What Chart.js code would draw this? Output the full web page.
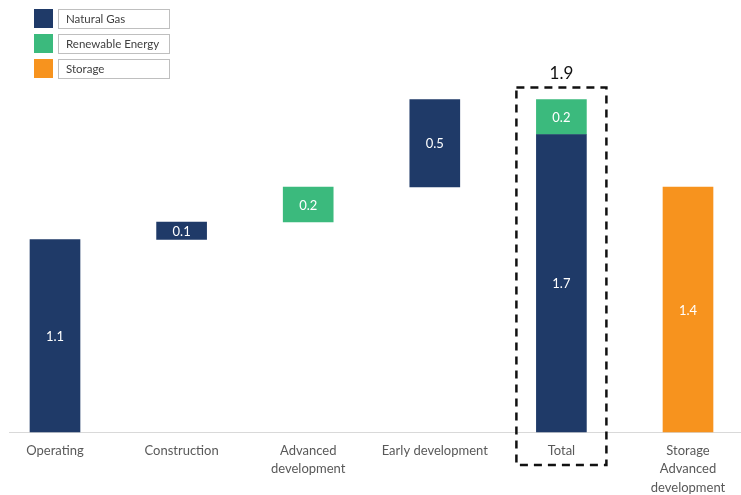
<!DOCTYPE html>
<html>
<head>
<meta charset="utf-8">
<script src="https://cdn.jsdelivr.net/npm/chart.js@4/dist/chart.umd.min.js"></script>
<style>
  html, body { margin: 0; padding: 0; background: #ffffff; }
  #wrap { width: 741px; height: 495px; position: relative; }
</style>
</head>
<body>
<div id="wrap"><canvas id="c" width="741" height="495"></canvas></div>
<script>
// Categories along the bottom (multi-line labels as arrays)
const categories = [
  'Operating',
  'Construction',
  ['Advanced', 'development'],
  'Early development',
  'Total',
  ['Storage', 'Advanced', 'development']
];

// Capacity per category and series (GW)
const naturalGas      = [1.1, 0.1, null, 0.5, 1.7, null];
const renewableEnergy = [null, null, 0.2, null, 0.2, null];
const storage         = [null, null, null, null, null, 1.4];

// How each category is stacked: steps build a waterfall, the total and
// standalone bars start from zero
const barKind = ['step', 'step', 'step', 'step', 'total', 'single'];

const seriesNames  = ['Natural Gas', 'Renewable Energy', 'Storage'];
const seriesColors = ['#1f3a68', '#3bba7d', '#f7931e'];

// Build floating [from, to] ranges for each series
function buildRanges() {
  const all = [naturalGas, renewableEnergy, storage];
  const out = all.map(() => categories.map(() => null));
  let running = 0;
  categories.forEach((_, i) => {
    if (barKind[i] === 'step') {
      all.forEach((s, k) => {
        if (s[i] != null) {
          out[k][i] = [running, running + s[i]];
          running += s[i];
        }
      });
    } else {
      let base = 0;
      all.forEach((s, k) => {
        if (s[i] != null) {
          out[k][i] = [base, base + s[i]];
          base += s[i];
        }
      });
    }
  });
  return out;
}
const ranges = buildRanges();
const seriesValues = [naturalGas, renewableEnergy, storage];

const totalIndex = barKind.indexOf('total');
const totalValue = seriesValues.reduce((a, s) => a + (s[totalIndex] || 0), 0);

const fontFamily = 'Lato, "Open Sans", sans-serif';

// Light baseline spanning the width
const baselinePlugin = {
  id: 'baseline',
  beforeDatasetsDraw(chart) {
    const ctx = chart.ctx;
    const y = chart.scales.y.getPixelForValue(0);
    ctx.save();
    ctx.strokeStyle = '#d9d9d9';
    ctx.lineWidth = 1;
    ctx.beginPath();
    ctx.moveTo(9, y + 0.5);
    ctx.lineTo(chart.width, y + 0.5);
    ctx.stroke();
    ctx.restore();
  }
};

// White value labels in the middle of each bar
const valueLabels = {
  id: 'valueLabels',
  afterDatasetsDraw(chart) {
    const ctx = chart.ctx;
    ctx.save();
    ctx.fillStyle = '#ffffff';
    ctx.font = '13px ' + fontFamily;
    ctx.textAlign = 'center';
    ctx.textBaseline = 'middle';
    chart.data.datasets.forEach((ds, k) => {
      const meta = chart.getDatasetMeta(k);
      meta.data.forEach((bar, i) => {
        const v = seriesValues[k][i];
        if (v == null) return;
        const cy = (bar.y + bar.base) / 2;
        ctx.fillText(v.toFixed(1), bar.x, cy + 1);
      });
    });
    ctx.restore();
  }
};

// Dashed frame around the total bar with its sum above
const totalFrame = {
  id: 'totalFrame',
  afterDraw(chart) {
    const ctx = chart.ctx;
    const xs = chart.scales.x, ys = chart.scales.y;
    const cx = xs.getPixelForValue(totalIndex);
    const top = ys.getPixelForValue(totalValue) - 12;
    const bottom = ys.getPixelForValue(0) + 33;
    ctx.save();
    ctx.strokeStyle = '#111111';
    ctx.lineWidth = 2.5;
    ctx.setLineDash([8, 6]);
    ctx.strokeRect(cx - 45, top, 90, bottom - top);
    ctx.setLineDash([]);
    ctx.fillStyle = '#111111';
    ctx.font = '17px ' + fontFamily;
    ctx.textAlign = 'center';
    ctx.textBaseline = 'middle';
    ctx.fillText(totalValue.toFixed(1), cx, top - 14);
    ctx.restore();
  }
};

// Legend: colour squares next to bordered name boxes, top left
const boxLegend = {
  id: 'boxLegend',
  afterDraw(chart) {
    const ctx = chart.ctx;
    ctx.save();
    chart.data.datasets.forEach((ds, k) => {
      const y = 9 + k * 25;
      ctx.fillStyle = ds.backgroundColor;
      ctx.fillRect(34, y, 19, 19);
      ctx.strokeStyle = '#bfbfbf';
      ctx.lineWidth = 1;
      ctx.strokeRect(58.5, y + 0.5, 111, 19);
      ctx.fillStyle = '#404040';
      ctx.font = '11.5px ' + fontFamily;
      ctx.textAlign = 'left';
      ctx.textBaseline = 'middle';
      ctx.fillText(ds.label, 66, y + 10);
    });
    ctx.restore();
  }
};

new Chart(document.getElementById('c'), {
  type: 'bar',
  data: {
    labels: categories,
    datasets: seriesNames.map((name, k) => ({
      label: name,
      data: ranges[k],
      backgroundColor: seriesColors[k],
      borderWidth: 0,
      barThickness: 50,
      clip: false
    }))
  },
  options: {
    responsive: false,
    animation: false,
    layout: { padding: { top: 82, left: 55, right: 53, bottom: 0 } },
    plugins: { legend: { display: false }, tooltip: { enabled: false } },
    scales: {
      x: {
        stacked: true,
        offset: false,
        grid: { display: false, drawTicks: false },
        border: { display: false },
        ticks: {
          autoSkip: false,
          maxRotation: 0,
          padding: 10,
          color: '#595959',
          font: { family: fontFamily, size: 13, lineHeight: 1.4 }
        },
        afterFit(scale) { scale.height = 63; }
      },
      y: {
        display: false,
        stacked: false,
        min: 0,
        max: 2.0
      }
    }
  },
  plugins: [baselinePlugin, valueLabels, totalFrame, boxLegend]
});
</script>
</body>
</html>
